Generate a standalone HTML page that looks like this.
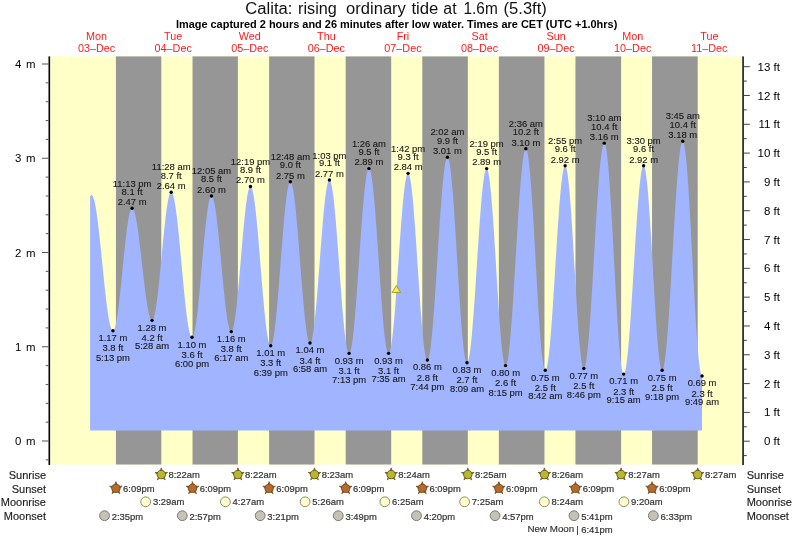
<!DOCTYPE html>
<html><head><meta charset="utf-8"><title>Calita tide</title><style>html,body{margin:0;padding:0;background:#fff}svg{display:block;will-change:transform}text{font-family:"Liberation Sans",sans-serif}</style></head><body>
<svg width="793" height="538" viewBox="0 0 793 538">
<rect width="793" height="538" fill="#fff"/>
<rect x="50" y="56.4" width="692.2" height="408.1" fill="#ffffc8"/>
<rect x="115.92" y="56.4" width="45.37" height="408.1" fill="#969696"/>
<rect x="192.51" y="56.4" width="45.37" height="408.1" fill="#969696"/>
<rect x="269.10" y="56.4" width="45.42" height="408.1" fill="#969696"/>
<rect x="345.70" y="56.4" width="45.48" height="408.1" fill="#969696"/>
<rect x="422.29" y="56.4" width="45.53" height="408.1" fill="#969696"/>
<rect x="498.88" y="56.4" width="45.58" height="408.1" fill="#969696"/>
<rect x="575.47" y="56.4" width="45.64" height="408.1" fill="#969696"/>
<rect x="652.06" y="56.4" width="45.64" height="408.1" fill="#969696"/>
<path d="M90.07 430.50L90.07 196.73L90.39 196.05L90.71 195.54L91.03 195.20L91.35 195.03L91.67 195.03L91.99 195.17L92.31 195.47L92.63 195.91L92.94 196.50L93.26 197.24L93.58 198.12L93.90 199.14L94.22 200.30L94.54 201.59L94.86 203.02L95.18 204.59L95.50 206.27L95.82 208.09L96.13 210.02L96.45 212.07L96.77 214.23L97.09 216.49L97.41 218.86L97.73 221.32L98.05 223.87L98.37 226.51L98.69 229.23L99.01 232.02L99.33 234.88L99.64 237.80L99.96 240.78L100.28 243.80L100.60 246.87L100.92 249.97L101.24 253.10L101.56 256.25L101.88 259.41L102.20 262.58L102.52 265.75L102.84 268.92L103.15 272.07L103.47 275.21L103.79 278.31L104.11 281.38L104.43 284.42L104.75 287.40L105.07 290.33L105.39 293.20L105.71 296.01L106.03 298.74L106.35 301.39L106.66 303.96L106.98 306.44L107.30 308.83L107.62 311.11L107.94 313.29L108.26 315.36L108.58 317.31L108.90 319.14L109.22 320.86L109.54 322.44L109.86 323.89L110.17 325.21L110.49 326.40L110.81 327.44L111.13 328.35L111.45 329.11L111.77 329.73L112.09 330.20L112.41 330.52L112.73 330.69L113.05 330.72L113.37 330.58L113.68 330.28L114.00 329.80L114.32 329.17L114.64 328.37L114.96 327.40L115.28 326.28L115.60 325.01L115.92 323.58L116.24 322.00L116.56 320.28L116.87 318.42L117.19 316.43L117.51 314.30L117.83 312.06L118.15 309.69L118.47 307.22L118.79 304.64L119.11 301.97L119.43 299.21L119.75 296.37L120.07 293.45L120.38 290.47L120.70 287.43L121.02 284.34L121.34 281.21L121.66 278.05L121.98 274.86L122.30 271.66L122.62 268.45L122.94 265.25L123.26 262.06L123.58 258.88L123.89 255.74L124.21 252.64L124.53 249.58L124.85 246.57L125.17 243.63L125.49 240.76L125.81 237.97L126.13 235.26L126.45 232.65L126.77 230.14L127.09 227.73L127.40 225.44L127.72 223.27L128.04 221.23L128.36 219.32L128.68 217.55L129.00 215.92L129.32 214.43L129.64 213.10L129.96 211.92L130.28 210.90L130.60 210.04L130.91 209.34L131.23 208.81L131.55 208.44L131.87 208.24L132.19 208.21L132.51 208.32L132.83 208.58L133.15 208.98L133.47 209.51L133.79 210.19L134.10 211.00L134.42 211.94L134.74 213.02L135.06 214.23L135.38 215.56L135.70 217.02L136.02 218.60L136.34 220.29L136.66 222.09L136.98 224.00L137.30 226.01L137.61 228.12L137.93 230.32L138.25 232.60L138.57 234.97L138.89 237.41L139.21 239.91L139.53 242.48L139.85 245.10L140.17 247.77L140.49 250.49L140.81 253.24L141.12 256.01L141.44 258.81L141.76 261.62L142.08 264.44L142.40 267.25L142.72 270.06L143.04 272.86L143.36 275.63L143.68 278.38L144.00 281.08L144.32 283.75L144.63 286.37L144.95 288.93L145.27 291.43L145.59 293.86L145.91 296.22L146.23 298.49L146.55 300.68L146.87 302.78L147.19 304.78L147.51 306.67L147.83 308.47L148.14 310.14L148.46 311.71L148.78 313.15L149.10 314.47L149.42 315.66L149.74 316.73L150.06 317.66L150.38 318.46L150.70 319.12L151.02 319.64L151.33 320.02L151.65 320.26L151.97 320.36L152.29 320.30L152.61 320.08L152.93 319.67L153.25 319.10L153.57 318.35L153.89 317.43L154.21 316.34L154.53 315.09L154.84 313.68L155.16 312.11L155.48 310.39L155.80 308.52L156.12 306.50L156.44 304.35L156.76 302.07L157.08 299.66L157.40 297.13L157.72 294.49L158.04 291.75L158.35 288.91L158.67 285.97L158.99 282.96L159.31 279.88L159.63 276.73L159.95 273.52L160.27 270.27L160.59 266.97L160.91 263.65L161.23 260.31L161.55 256.96L161.86 253.61L162.18 250.26L162.50 246.93L162.82 243.62L163.14 240.35L163.46 237.13L163.78 233.95L164.10 230.84L164.42 227.79L164.74 224.83L165.06 221.95L165.37 219.16L165.69 216.48L166.01 213.91L166.33 211.45L166.65 209.11L166.97 206.91L167.29 204.83L167.61 202.90L167.93 201.12L168.25 199.49L168.56 198.01L168.88 196.69L169.20 195.54L169.52 194.55L169.84 193.73L170.16 193.08L170.48 192.61L170.80 192.31L171.12 192.18L171.44 192.23L171.76 192.45L172.07 192.83L172.39 193.38L172.71 194.10L173.03 194.97L173.35 196.01L173.67 197.21L173.99 198.56L174.31 200.07L174.63 201.73L174.95 203.53L175.27 205.47L175.58 207.55L175.90 209.76L176.22 212.10L176.54 214.57L176.86 217.14L177.18 219.83L177.50 222.62L177.82 225.51L178.14 228.49L178.46 231.55L178.78 234.69L179.09 237.90L179.41 241.17L179.73 244.50L180.05 247.87L180.37 251.28L180.69 254.72L181.01 258.19L181.33 261.67L181.65 265.16L181.97 268.65L182.29 272.13L182.60 275.59L182.92 279.02L183.24 282.43L183.56 285.79L183.88 289.10L184.20 292.36L184.52 295.55L184.84 298.68L185.16 301.72L185.48 304.68L185.79 307.54L186.11 310.31L186.43 312.97L186.75 315.52L187.07 317.96L187.39 320.27L187.71 322.45L188.03 324.50L188.35 326.41L188.67 328.18L188.99 329.80L189.30 331.27L189.62 332.59L189.94 333.75L190.26 334.75L190.58 335.59L190.90 336.27L191.22 336.78L191.54 337.12L191.86 337.30L192.18 337.31L192.50 337.13L192.81 336.76L193.13 336.21L193.45 335.47L193.77 334.55L194.09 333.45L194.41 332.17L194.73 330.71L195.05 329.09L195.37 327.29L195.69 325.34L196.01 323.23L196.32 320.97L196.64 318.56L196.96 316.01L197.28 313.34L197.60 310.54L197.92 307.62L198.24 304.59L198.56 301.46L198.88 298.24L199.20 294.94L199.52 291.56L199.83 288.11L200.15 284.61L200.47 281.05L200.79 277.46L201.11 273.84L201.43 270.20L201.75 266.56L202.07 262.91L202.39 259.27L202.71 255.65L203.02 252.06L203.34 248.51L203.66 245.01L203.98 241.56L204.30 238.19L204.62 234.88L204.94 231.67L205.26 228.54L205.58 225.52L205.90 222.61L206.22 219.81L206.53 217.14L206.85 214.60L207.17 212.20L207.49 209.95L207.81 207.85L208.13 205.90L208.45 204.11L208.77 202.49L209.09 201.05L209.41 199.77L209.73 198.68L210.04 197.77L210.36 197.04L210.68 196.49L211.00 196.13L211.32 195.97L211.64 195.98L211.96 196.17L212.28 196.54L212.60 197.08L212.92 197.78L213.24 198.66L213.55 199.71L213.87 200.92L214.19 202.29L214.51 203.82L214.83 205.50L215.15 207.34L215.47 209.31L215.79 211.43L216.11 213.68L216.43 216.06L216.75 218.57L217.06 221.19L217.38 223.92L217.70 226.75L218.02 229.67L218.34 232.69L218.66 235.78L218.98 238.95L219.30 242.18L219.62 245.46L219.94 248.79L220.25 252.16L220.57 255.56L220.89 258.98L221.21 262.42L221.53 265.86L221.85 269.29L222.17 272.71L222.49 276.10L222.81 279.47L223.13 282.79L223.45 286.06L223.76 289.28L224.08 292.43L224.40 295.51L224.72 298.51L225.04 301.42L225.36 304.23L225.68 306.94L226.00 309.54L226.32 312.02L226.64 314.38L226.96 316.60L227.27 318.69L227.59 320.64L227.91 322.45L228.23 324.10L228.55 325.60L228.87 326.94L229.19 328.12L229.51 329.14L229.83 329.98L230.15 330.66L230.47 331.16L230.78 331.50L231.10 331.66L231.42 331.64L231.74 331.42L232.06 331.01L232.38 330.41L232.70 329.61L233.02 328.62L233.34 327.44L233.66 326.08L233.98 324.53L234.29 322.81L234.61 320.92L234.93 318.86L235.25 316.63L235.57 314.25L235.89 311.72L236.21 309.05L236.53 306.24L236.85 303.31L237.17 300.25L237.49 297.09L237.80 293.82L238.12 290.45L238.44 287.01L238.76 283.48L239.08 279.89L239.40 276.25L239.72 272.55L240.04 268.82L240.36 265.07L240.68 261.30L240.99 257.52L241.31 253.75L241.63 249.99L241.95 246.25L242.27 242.55L242.59 238.90L242.91 235.30L243.23 231.76L243.55 228.30L243.87 224.92L244.19 221.64L244.50 218.45L244.82 215.38L245.14 212.43L245.46 209.60L245.78 206.90L246.10 204.35L246.42 201.94L246.74 199.69L247.06 197.61L247.38 195.68L247.70 193.93L248.01 192.36L248.33 190.97L248.65 189.76L248.97 188.74L249.29 187.91L249.61 187.27L249.93 186.83L250.25 186.58L250.57 186.53L250.89 186.68L251.21 187.02L251.52 187.55L251.84 188.28L252.16 189.21L252.48 190.32L252.80 191.61L253.12 193.09L253.44 194.75L253.76 196.59L254.08 198.59L254.40 200.77L254.72 203.10L255.03 205.59L255.35 208.23L255.67 211.01L255.99 213.92L256.31 216.97L256.63 220.13L256.95 223.41L257.27 226.80L257.59 230.28L257.91 233.84L258.22 237.49L258.54 241.21L258.86 244.99L259.18 248.82L259.50 252.70L259.82 256.61L260.14 260.54L260.46 264.48L260.78 268.43L261.10 272.38L261.42 276.30L261.73 280.21L262.05 284.08L262.37 287.90L262.69 291.67L263.01 295.38L263.33 299.02L263.65 302.58L263.97 306.04L264.29 309.41L264.61 312.67L264.93 315.82L265.24 318.85L265.56 321.74L265.88 324.50L266.20 327.12L266.52 329.59L266.84 331.90L267.16 334.04L267.48 336.03L267.80 337.84L268.12 339.47L268.44 340.92L268.75 342.19L269.07 343.28L269.39 344.17L269.71 344.87L270.03 345.38L270.35 345.69L270.67 345.81L270.99 345.72L271.31 345.42L271.63 344.91L271.95 344.18L272.26 343.25L272.58 342.11L272.90 340.77L273.22 339.22L273.54 337.48L273.86 335.54L274.18 333.42L274.50 331.12L274.82 328.64L275.14 325.99L275.45 323.18L275.77 320.22L276.09 317.11L276.41 313.86L276.73 310.48L277.05 306.97L277.37 303.36L277.69 299.64L278.01 295.83L278.33 291.93L278.65 287.96L278.96 283.93L279.28 279.85L279.60 275.72L279.92 271.56L280.24 267.38L280.56 263.20L280.88 259.01L281.20 254.84L281.52 250.69L281.84 246.58L282.16 242.51L282.47 238.49L282.79 234.54L283.11 230.67L283.43 226.88L283.75 223.19L284.07 219.61L284.39 216.14L284.71 212.80L285.03 209.59L285.35 206.52L285.67 203.60L285.98 200.84L286.30 198.24L286.62 195.81L286.94 193.56L287.26 191.49L287.58 189.61L287.90 187.93L288.22 186.44L288.54 185.15L288.86 184.07L289.18 183.20L289.49 182.54L289.81 182.09L290.13 181.85L290.45 181.83L290.77 182.01L291.09 182.41L291.41 183.01L291.73 183.82L292.05 184.83L292.37 186.04L292.68 187.46L293.00 189.06L293.32 190.86L293.64 192.84L293.96 195.00L294.28 197.34L294.60 199.84L294.92 202.51L295.24 205.33L295.56 208.30L295.88 211.41L296.19 214.66L296.51 218.03L296.83 221.51L297.15 225.10L297.47 228.78L297.79 232.55L298.11 236.40L298.43 240.32L298.75 244.30L299.07 248.32L299.39 252.38L299.70 256.46L300.02 260.56L300.34 264.66L300.66 268.76L300.98 272.84L301.30 276.90L301.62 280.91L301.94 284.88L302.26 288.79L302.58 292.64L302.90 296.40L303.21 300.08L303.53 303.65L303.85 307.12L304.17 310.48L304.49 313.71L304.81 316.81L305.13 319.76L305.45 322.57L305.77 325.22L306.09 327.71L306.41 330.03L306.72 332.17L307.04 334.13L307.36 335.91L307.68 337.49L308.00 338.88L308.32 340.08L308.64 341.07L308.96 341.85L309.28 342.43L309.60 342.81L309.91 342.97L310.23 342.92L310.55 342.66L310.87 342.18L311.19 341.49L311.51 340.58L311.83 339.46L312.15 338.13L312.47 336.60L312.79 334.87L313.11 332.94L313.42 330.82L313.74 328.52L314.06 326.04L314.38 323.38L314.70 320.56L315.02 317.59L315.34 314.46L315.66 311.19L315.98 307.79L316.30 304.27L316.62 300.63L316.93 296.89L317.25 293.05L317.57 289.13L317.89 285.14L318.21 281.08L318.53 276.97L318.85 272.82L319.17 268.64L319.49 264.44L319.81 260.23L320.13 256.02L320.44 251.83L320.76 247.66L321.08 243.54L321.40 239.45L321.72 235.43L322.04 231.48L322.36 227.61L322.68 223.82L323.00 220.14L323.32 216.57L323.64 213.12L323.95 209.79L324.27 206.61L324.59 203.57L324.91 200.68L325.23 197.96L325.55 195.40L325.87 193.02L326.19 190.83L326.51 188.82L326.83 187.01L327.14 185.39L327.46 183.98L327.78 182.77L328.10 181.77L328.42 180.99L328.74 180.42L329.06 180.07L329.38 179.93L329.70 180.01L330.02 180.32L330.34 180.85L330.65 181.61L330.97 182.58L331.29 183.77L331.61 185.18L331.93 186.80L332.25 188.63L332.57 190.66L332.89 192.88L333.21 195.30L333.53 197.90L333.85 200.68L334.16 203.63L334.48 206.75L334.80 210.02L335.12 213.43L335.44 216.99L335.76 220.67L336.08 224.48L336.40 228.39L336.72 232.40L337.04 236.50L337.36 240.68L337.67 244.92L337.99 249.23L338.31 253.57L338.63 257.96L338.95 262.36L339.27 266.77L339.59 271.19L339.91 275.59L340.23 279.97L340.55 284.32L340.87 288.62L341.18 292.86L341.50 297.03L341.82 301.13L342.14 305.13L342.46 309.04L342.78 312.83L343.10 316.51L343.42 320.06L343.74 323.47L344.06 326.73L344.37 329.83L344.69 332.77L345.01 335.54L345.33 338.13L345.65 340.54L345.97 342.75L346.29 344.77L346.61 346.58L346.93 348.19L347.25 349.58L347.57 350.76L347.88 351.72L348.20 352.46L348.52 352.98L348.84 353.27L349.16 353.34L349.48 353.18L349.80 352.78L350.12 352.15L350.44 351.28L350.76 350.19L351.08 348.86L351.39 347.32L351.71 345.55L352.03 343.56L352.35 341.37L352.67 338.97L352.99 336.37L353.31 333.58L353.63 330.60L353.95 327.45L354.27 324.12L354.59 320.64L354.90 317.00L355.22 313.22L355.54 309.30L355.86 305.27L356.18 301.12L356.50 296.86L356.82 292.52L357.14 288.10L357.46 283.60L357.78 279.05L358.10 274.45L358.41 269.82L358.73 265.16L359.05 260.50L359.37 255.84L359.69 251.18L360.01 246.56L360.33 241.97L360.65 237.43L360.97 232.95L361.29 228.54L361.60 224.21L361.92 219.98L362.24 215.85L362.56 211.84L362.88 207.95L363.20 204.20L363.52 200.59L363.84 197.14L364.16 193.85L364.48 190.73L364.80 187.79L365.11 185.04L365.43 182.48L365.75 180.13L366.07 177.97L366.39 176.03L366.71 174.31L367.03 172.81L367.35 171.53L367.67 170.48L367.99 169.67L368.31 169.08L368.62 168.73L368.94 168.62L369.26 168.74L369.58 169.11L369.90 169.71L370.22 170.55L370.54 171.63L370.86 172.94L371.18 174.48L371.50 176.25L371.82 178.24L372.13 180.44L372.45 182.85L372.77 185.47L373.09 188.28L373.41 191.29L373.73 194.47L374.05 197.83L374.37 201.35L374.69 205.03L375.01 208.86L375.33 212.82L375.64 216.90L375.96 221.11L376.28 225.41L376.60 229.81L376.92 234.29L377.24 238.84L377.56 243.44L377.88 248.10L378.20 252.78L378.52 257.49L378.84 262.21L379.15 266.92L379.47 271.62L379.79 276.29L380.11 280.92L380.43 285.50L380.75 290.01L381.07 294.45L381.39 298.80L381.71 303.05L382.03 307.20L382.34 311.22L382.66 315.11L382.98 318.86L383.30 322.46L383.62 325.90L383.94 329.17L384.26 332.26L384.58 335.17L384.90 337.88L385.22 340.39L385.54 342.70L385.85 344.79L386.17 346.66L386.49 348.31L386.81 349.73L387.13 350.92L387.45 351.88L387.77 352.60L388.09 353.08L388.41 353.32L388.73 353.32L389.05 353.08L389.36 352.60L389.68 351.89L390.00 350.95L390.32 349.78L390.64 348.37L390.96 346.75L391.28 344.90L391.60 342.84L391.92 340.57L392.24 338.09L392.56 335.42L392.87 332.56L393.19 329.51L393.51 326.30L393.83 322.91L394.15 319.37L394.47 315.68L394.79 311.85L395.11 307.90L395.43 303.82L395.75 299.64L396.07 295.37L396.38 291.01L396.70 286.57L397.02 282.08L397.34 277.54L397.66 272.96L397.98 268.35L398.30 263.73L398.62 259.11L398.94 254.50L399.26 249.91L399.57 245.36L399.89 240.86L400.21 236.42L400.53 232.04L400.85 227.75L401.17 223.55L401.49 219.46L401.81 215.49L402.13 211.64L402.45 207.92L402.77 204.36L403.08 200.94L403.40 197.70L403.72 194.62L404.04 191.73L404.36 189.02L404.68 186.51L405.00 184.21L405.32 182.11L405.64 180.23L405.96 178.56L406.28 177.12L406.59 175.91L406.91 174.93L407.23 174.18L407.55 173.66L407.87 173.38L408.19 173.34L408.51 173.55L408.83 174.01L409.15 174.73L409.47 175.69L409.79 176.90L410.10 178.35L410.42 180.04L410.74 181.96L411.06 184.12L411.38 186.49L411.70 189.09L412.02 191.89L412.34 194.90L412.66 198.10L412.98 201.49L413.30 205.06L413.61 208.79L413.93 212.68L414.25 216.71L414.57 220.88L414.89 225.17L415.21 229.58L415.53 234.09L415.85 238.68L416.17 243.35L416.49 248.08L416.80 252.87L417.12 257.69L417.44 262.53L417.76 267.39L418.08 272.24L418.40 277.08L418.72 281.89L419.04 286.66L419.36 291.38L419.68 296.03L420.00 300.60L420.31 305.07L420.63 309.44L420.95 313.70L421.27 317.83L421.59 321.82L421.91 325.66L422.23 329.34L422.55 332.85L422.87 336.18L423.19 339.33L423.51 342.27L423.82 345.01L424.14 347.54L424.46 349.85L424.78 351.93L425.10 353.79L425.42 355.40L425.74 356.78L426.06 357.91L426.38 358.80L426.70 359.43L427.02 359.81L427.33 359.94L427.65 359.82L427.97 359.45L428.29 358.83L428.61 357.95L428.93 356.83L429.25 355.47L429.57 353.87L429.89 352.03L430.21 349.95L430.53 347.65L430.84 345.13L431.16 342.39L431.48 339.45L431.80 336.30L432.12 332.97L432.44 329.44L432.76 325.74L433.08 321.88L433.40 317.85L433.72 313.68L434.03 309.38L434.35 304.94L434.67 300.39L434.99 295.74L435.31 291.00L435.63 286.17L435.95 281.28L436.27 276.33L436.59 271.34L436.91 266.31L437.23 261.27L437.54 256.21L437.86 251.17L438.18 246.14L438.50 241.15L438.82 236.20L439.14 231.30L439.46 226.47L439.78 221.72L440.10 217.07L440.42 212.51L440.74 208.07L441.05 203.76L441.37 199.58L441.69 195.55L442.01 191.68L442.33 187.97L442.65 184.44L442.97 181.09L443.29 177.94L443.61 174.99L443.93 172.24L444.25 169.71L444.56 167.40L444.88 165.32L445.20 163.46L445.52 161.85L445.84 160.47L446.16 159.34L446.48 158.46L446.80 157.82L447.12 157.44L447.44 157.31L447.76 157.44L448.07 157.83L448.39 158.50L448.71 159.44L449.03 160.64L449.35 162.10L449.67 163.82L449.99 165.80L450.31 168.02L450.63 170.49L450.95 173.19L451.26 176.12L451.58 179.27L451.90 182.64L452.22 186.20L452.54 189.97L452.86 193.92L453.18 198.04L453.50 202.33L453.82 206.77L454.14 211.34L454.46 216.05L454.77 220.87L455.09 225.80L455.41 230.82L455.73 235.91L456.05 241.07L456.37 246.28L456.69 251.52L457.01 256.79L457.33 262.06L457.65 267.33L457.97 272.58L458.28 277.80L458.60 282.97L458.92 288.08L459.24 293.12L459.56 298.06L459.88 302.91L460.20 307.65L460.52 312.26L460.84 316.73L461.16 321.05L461.48 325.22L461.79 329.21L462.11 333.01L462.43 336.63L462.75 340.04L463.07 343.25L463.39 346.23L463.71 348.99L464.03 351.51L464.35 353.79L464.67 355.82L464.99 357.60L465.30 359.12L465.62 360.39L465.94 361.38L466.26 362.11L466.58 362.58L466.90 362.77L467.22 362.69L467.54 362.37L467.86 361.79L468.18 360.96L468.49 359.89L468.81 358.57L469.13 357.02L469.45 355.22L469.77 353.19L470.09 350.94L470.41 348.46L470.73 345.77L471.05 342.88L471.37 339.78L471.69 336.49L472.00 333.01L472.32 329.37L472.64 325.55L472.96 321.58L473.28 317.47L473.60 313.22L473.92 308.85L474.24 304.37L474.56 299.78L474.88 295.11L475.20 290.36L475.51 285.55L475.83 280.69L476.15 275.78L476.47 270.85L476.79 265.91L477.11 260.97L477.43 256.04L477.75 251.13L478.07 246.27L478.39 241.45L478.71 236.69L479.02 232.01L479.34 227.42L479.66 222.93L479.98 218.55L480.30 214.29L480.62 210.16L480.94 206.18L481.26 202.35L481.58 198.69L481.90 195.20L482.22 191.89L482.53 188.78L482.85 185.86L483.17 183.15L483.49 180.66L483.81 178.39L484.13 176.34L484.45 174.52L484.77 172.94L485.09 171.60L485.41 170.51L485.72 169.66L486.04 169.06L486.36 168.72L486.68 168.62L487.00 168.79L487.32 169.24L487.64 169.96L487.96 170.95L488.28 172.21L488.60 173.74L488.92 175.53L489.23 177.57L489.55 179.87L489.87 182.41L490.19 185.19L490.51 188.20L490.83 191.43L491.15 194.87L491.47 198.51L491.79 202.35L492.11 206.36L492.43 210.55L492.74 214.90L493.06 219.39L493.38 224.01L493.70 228.76L494.02 233.62L494.34 238.56L494.66 243.59L494.98 248.68L495.30 253.83L495.62 259.01L495.94 264.22L496.25 269.43L496.57 274.64L496.89 279.82L497.21 284.97L497.53 290.07L497.85 295.11L498.17 300.07L498.49 304.93L498.81 309.69L499.13 314.33L499.45 318.84L499.76 323.20L500.08 327.41L500.40 331.44L500.72 335.30L501.04 338.96L501.36 342.43L501.68 345.68L502.00 348.71L502.32 351.52L502.64 354.08L502.96 356.41L503.27 358.48L503.59 360.30L503.91 361.85L504.23 363.15L504.55 364.17L504.87 364.92L505.19 365.39L505.51 365.59L505.83 365.52L506.15 365.18L506.46 364.58L506.78 363.72L507.10 362.59L507.42 361.21L507.74 359.57L508.06 357.69L508.38 355.55L508.70 353.18L509.02 350.57L509.34 347.73L509.66 344.67L509.97 341.40L510.29 337.92L510.61 334.25L510.93 330.38L511.25 326.34L511.57 322.13L511.89 317.76L512.21 313.24L512.53 308.58L512.85 303.80L513.17 298.90L513.48 293.91L513.80 288.82L514.12 283.65L514.44 278.42L514.76 273.14L515.08 267.82L515.40 262.47L515.72 257.12L516.04 251.76L516.36 246.41L516.68 241.09L516.99 235.81L517.31 230.58L517.63 225.42L517.95 220.34L518.27 215.34L518.59 210.45L518.91 205.67L519.23 201.02L519.55 196.51L519.87 192.14L520.19 187.93L520.50 183.90L520.82 180.04L521.14 176.37L521.46 172.90L521.78 169.64L522.10 166.59L522.42 163.76L522.74 161.16L523.06 158.79L523.38 156.67L523.69 154.79L524.01 153.16L524.33 151.79L524.65 150.67L524.97 149.82L525.29 149.23L525.61 148.90L525.93 148.84L526.25 149.06L526.57 149.58L526.89 150.38L527.20 151.48L527.52 152.87L527.84 154.53L528.16 156.48L528.48 158.70L528.80 161.18L529.12 163.93L529.44 166.93L529.76 170.18L530.08 173.66L530.40 177.37L530.71 181.30L531.03 185.44L531.35 189.77L531.67 194.29L531.99 198.98L532.31 203.83L532.63 208.83L532.95 213.96L533.27 219.22L533.59 224.58L533.91 230.03L534.22 235.57L534.54 241.16L534.86 246.81L535.18 252.49L535.50 258.19L535.82 263.89L536.14 269.58L536.46 275.24L536.78 280.86L537.10 286.43L537.42 291.92L537.73 297.33L538.05 302.64L538.37 307.83L538.69 312.90L539.01 317.82L539.33 322.59L539.65 327.20L539.97 331.62L540.29 335.85L540.61 339.88L540.92 343.70L541.24 347.30L541.56 350.66L541.88 353.78L542.20 356.65L542.52 359.27L542.84 361.62L543.16 363.69L543.48 365.50L543.80 367.02L544.12 368.26L544.43 369.21L544.75 369.86L545.07 370.23L545.39 370.30L545.71 370.11L546.03 369.65L546.35 368.94L546.67 367.96L546.99 366.73L547.31 365.25L547.63 363.52L547.94 361.55L548.26 359.34L548.58 356.90L548.90 354.23L549.22 351.34L549.54 348.23L549.86 344.92L550.18 341.42L550.50 337.73L550.82 333.86L551.14 329.82L551.45 325.63L551.77 321.29L552.09 316.81L552.41 312.21L552.73 307.49L553.05 302.68L553.37 297.77L553.69 292.79L554.01 287.75L554.33 282.66L554.65 277.53L554.96 272.37L555.28 267.21L555.60 262.04L555.92 256.90L556.24 251.78L556.56 246.70L556.88 241.67L557.20 236.72L557.52 231.84L557.84 227.06L558.15 222.38L558.47 217.82L558.79 213.38L559.11 209.09L559.43 204.94L559.75 200.96L560.07 197.15L560.39 193.52L560.71 190.08L561.03 186.83L561.35 183.80L561.66 180.98L561.98 178.38L562.30 176.01L562.62 173.88L562.94 171.99L563.26 170.34L563.58 168.94L563.90 167.79L564.22 166.91L564.54 166.27L564.86 165.90L565.17 165.79L565.49 165.96L565.81 166.42L566.13 167.17L566.45 168.21L566.77 169.53L567.09 171.13L567.41 173.01L567.73 175.16L568.05 177.58L568.37 180.26L568.68 183.18L569.00 186.35L569.32 189.75L569.64 193.37L569.96 197.21L570.28 201.24L570.60 205.47L570.92 209.87L571.24 214.44L571.56 219.16L571.88 224.02L572.19 229.01L572.51 234.10L572.83 239.29L573.15 244.56L573.47 249.89L573.79 255.27L574.11 260.69L574.43 266.13L574.75 271.57L575.07 276.99L575.38 282.39L575.70 287.74L576.02 293.04L576.34 298.25L576.66 303.38L576.98 308.41L577.30 313.31L577.62 318.09L577.94 322.71L578.26 327.18L578.58 331.47L578.89 335.58L579.21 339.49L579.53 343.19L579.85 346.67L580.17 349.92L580.49 352.93L580.81 355.70L581.13 358.21L581.45 360.46L581.77 362.44L582.09 364.14L582.40 365.57L582.72 366.71L583.04 367.56L583.36 368.13L583.68 368.40L584.00 368.38L584.32 368.10L584.64 367.54L584.96 366.71L585.28 365.61L585.60 364.25L585.91 362.63L586.23 360.75L586.55 358.62L586.87 356.25L587.19 353.62L587.51 350.77L587.83 347.68L588.15 344.38L588.47 340.86L588.79 337.13L589.11 333.21L589.42 329.11L589.74 324.82L590.06 320.38L590.38 315.77L590.70 311.02L591.02 306.14L591.34 301.14L591.66 296.02L591.98 290.81L592.30 285.52L592.61 280.15L592.93 274.73L593.25 269.26L593.57 263.76L593.89 258.24L594.21 252.71L594.53 247.19L594.85 241.69L595.17 236.23L595.49 230.81L595.81 225.45L596.12 220.17L596.44 214.97L596.76 209.87L597.08 204.88L597.40 200.01L597.72 195.28L598.04 190.69L598.36 186.26L598.68 182.00L599.00 177.91L599.32 174.01L599.63 170.31L599.95 166.82L600.27 163.54L600.59 160.48L600.91 157.65L601.23 155.06L601.55 152.71L601.87 150.61L602.19 148.76L602.51 147.17L602.83 145.84L603.14 144.78L603.46 143.98L603.78 143.45L604.10 143.20L604.42 143.22L604.74 143.54L605.06 144.17L605.38 145.11L605.70 146.35L606.02 147.88L606.34 149.72L606.65 151.84L606.97 154.25L607.29 156.93L607.61 159.89L607.93 163.11L608.25 166.59L608.57 170.31L608.89 174.26L609.21 178.44L609.53 182.84L609.84 187.43L610.16 192.22L610.48 197.18L610.80 202.31L611.12 207.58L611.44 213.00L611.76 218.53L612.08 224.17L612.40 229.91L612.72 235.72L613.04 241.59L613.35 247.50L613.67 253.45L613.99 259.41L614.31 265.37L614.63 271.31L614.95 277.21L615.27 283.07L615.59 288.86L615.91 294.57L616.23 300.18L616.55 305.69L616.86 311.07L617.18 316.31L617.50 321.39L617.82 326.31L618.14 331.05L618.46 335.59L618.78 339.93L619.10 344.05L619.42 347.95L619.74 351.60L620.06 355.01L620.37 358.16L620.69 361.05L621.01 363.66L621.33 366.00L621.65 368.05L621.97 369.80L622.29 371.26L622.61 372.42L622.93 373.28L623.25 373.83L623.57 374.07L623.88 374.02L624.20 373.70L624.52 373.12L624.84 372.28L625.16 371.18L625.48 369.82L625.80 368.22L626.12 366.36L626.44 364.26L626.76 361.93L627.08 359.36L627.39 356.56L627.71 353.55L628.03 350.33L628.35 346.90L628.67 343.28L628.99 339.47L629.31 335.49L629.63 331.34L629.95 327.03L630.27 322.59L630.58 318.01L630.90 313.30L631.22 308.49L631.54 303.58L631.86 298.59L632.18 293.52L632.50 288.40L632.82 283.23L633.14 278.02L633.46 272.79L633.78 267.56L634.09 262.33L634.41 257.12L634.73 251.95L635.05 246.82L635.37 241.75L635.69 236.75L636.01 231.83L636.33 227.01L636.65 222.29L636.97 217.70L637.29 213.24L637.60 208.93L637.92 204.76L638.24 200.76L638.56 196.94L638.88 193.30L639.20 189.85L639.52 186.61L639.84 183.58L640.16 180.76L640.48 178.17L640.80 175.81L641.11 173.69L641.43 171.82L641.75 170.19L642.07 168.81L642.39 167.68L642.71 166.82L643.03 166.22L643.35 165.87L643.67 165.80L643.99 166.01L644.31 166.51L644.62 167.32L644.94 168.42L645.26 169.82L645.58 171.50L645.90 173.46L646.22 175.71L646.54 178.22L646.86 180.99L647.18 184.03L647.50 187.30L647.81 190.82L648.13 194.56L648.45 198.52L648.77 202.68L649.09 207.03L649.41 211.56L649.73 216.26L650.05 221.11L650.37 226.09L650.69 231.20L651.01 236.42L651.32 241.73L651.64 247.12L651.96 252.57L652.28 258.06L652.60 263.59L652.92 269.12L653.24 274.66L653.56 280.17L653.88 285.65L654.20 291.08L654.52 296.44L654.83 301.71L655.15 306.89L655.47 311.95L655.79 316.89L656.11 321.68L656.43 326.31L656.75 330.78L657.07 335.06L657.39 339.14L657.71 343.02L658.03 346.67L658.34 350.09L658.66 353.28L658.98 356.21L659.30 358.89L659.62 361.30L659.94 363.43L660.26 365.29L660.58 366.86L660.90 368.14L661.22 369.13L661.54 369.82L661.85 370.21L662.17 370.31L662.49 370.12L662.81 369.66L663.13 368.93L663.45 367.94L663.77 366.68L664.09 365.15L664.41 363.37L664.73 361.33L665.04 359.04L665.36 356.50L665.68 353.73L666.00 350.73L666.32 347.50L666.64 344.05L666.96 340.39L667.28 336.53L667.60 332.48L667.92 328.25L668.24 323.85L668.55 319.29L668.87 314.57L669.19 309.72L669.51 304.74L669.83 299.64L670.15 294.44L670.47 289.14L670.79 283.77L671.11 278.33L671.43 272.84L671.75 267.31L672.06 261.75L672.38 256.17L672.70 250.60L673.02 245.04L673.34 239.50L673.66 234.00L673.98 228.55L674.30 223.17L674.62 217.87L674.94 212.65L675.26 207.54L675.57 202.54L675.89 197.67L676.21 192.94L676.53 188.35L676.85 183.93L677.17 179.67L677.49 175.60L677.81 171.71L678.13 168.03L678.45 164.55L678.77 161.29L679.08 158.26L679.40 155.45L679.72 152.89L680.04 150.56L680.36 148.49L680.68 146.67L681.00 145.11L681.32 143.81L681.64 142.78L681.96 142.02L682.27 141.52L682.59 141.30L682.91 141.36L683.23 141.73L683.55 142.41L683.87 143.41L684.19 144.71L684.51 146.32L684.83 148.23L685.15 150.43L685.47 152.93L685.78 155.71L686.10 158.76L686.42 162.09L686.74 165.67L687.06 169.50L687.38 173.57L687.70 177.86L688.02 182.38L688.34 187.10L688.66 192.01L688.98 197.09L689.29 202.35L689.61 207.75L689.93 213.29L690.25 218.95L690.57 224.72L690.89 230.58L691.21 236.51L691.53 242.51L691.85 248.55L692.17 254.61L692.49 260.68L692.80 266.75L693.12 272.80L693.44 278.81L693.76 284.76L694.08 290.65L694.40 296.45L694.72 302.15L695.04 307.73L695.36 313.18L695.68 318.48L696.00 323.62L696.31 328.59L696.63 333.37L696.95 337.95L697.27 342.32L697.59 346.47L697.91 350.38L698.23 354.04L698.55 357.45L698.87 360.59L699.19 363.46L699.50 366.04L699.82 368.34L700.14 370.35L700.46 372.06L700.78 373.46L701.10 374.55L701.42 375.34L701.74 375.81L702.06 375.97L702.06 430.50 Z" fill="#a0b4ff"/>
<rect x="48.5" y="56.4" width="1.6" height="408.6" fill="#000"/>
<rect x="742.2" y="56.4" width="1.75" height="408.6" fill="#2a2a30"/>
<rect x="45.70" y="459.35" width="2.80" height="1" fill="#555"/>
<rect x="42.00" y="440.50" width="6.50" height="1" fill="#555"/>
<rect x="45.70" y="421.65" width="2.80" height="1" fill="#555"/>
<rect x="45.70" y="402.80" width="2.80" height="1" fill="#555"/>
<rect x="45.70" y="383.95" width="2.80" height="1" fill="#555"/>
<rect x="45.70" y="365.10" width="2.80" height="1" fill="#555"/>
<rect x="42.00" y="346.25" width="6.50" height="1" fill="#555"/>
<rect x="45.70" y="327.40" width="2.80" height="1" fill="#555"/>
<rect x="45.70" y="308.55" width="2.80" height="1" fill="#555"/>
<rect x="45.70" y="289.70" width="2.80" height="1" fill="#555"/>
<rect x="45.70" y="270.85" width="2.80" height="1" fill="#555"/>
<rect x="42.00" y="252.00" width="6.50" height="1" fill="#555"/>
<rect x="45.70" y="233.15" width="2.80" height="1" fill="#555"/>
<rect x="45.70" y="214.30" width="2.80" height="1" fill="#555"/>
<rect x="45.70" y="195.45" width="2.80" height="1" fill="#555"/>
<rect x="45.70" y="176.60" width="2.80" height="1" fill="#555"/>
<rect x="42.00" y="157.75" width="6.50" height="1" fill="#555"/>
<rect x="45.70" y="138.90" width="2.80" height="1" fill="#555"/>
<rect x="45.70" y="120.05" width="2.80" height="1" fill="#555"/>
<rect x="45.70" y="101.20" width="2.80" height="1" fill="#555"/>
<rect x="45.70" y="82.35" width="2.80" height="1" fill="#555"/>
<rect x="42.00" y="63.50" width="6.50" height="1" fill="#555"/>
<text x="35.5" y="445.00" font-size="11.4" word-spacing="1.6" text-anchor="end" fill="#000">0 m</text>
<text x="35.5" y="350.75" font-size="11.4" word-spacing="1.6" text-anchor="end" fill="#000">1 m</text>
<text x="35.5" y="256.50" font-size="11.4" word-spacing="1.6" text-anchor="end" fill="#000">2 m</text>
<text x="35.5" y="162.25" font-size="11.4" word-spacing="1.6" text-anchor="end" fill="#000">3 m</text>
<text x="35.5" y="68.00" font-size="11.4" word-spacing="1.6" text-anchor="end" fill="#000">4 m</text>
<rect x="743.8" y="455.10" width="3.00" height="1" fill="#444"/>
<rect x="743.8" y="440.70" width="6.00" height="1" fill="#444"/>
<rect x="743.8" y="426.30" width="3.00" height="1" fill="#444"/>
<rect x="743.8" y="411.89" width="6.00" height="1" fill="#444"/>
<rect x="743.8" y="397.49" width="3.00" height="1" fill="#444"/>
<rect x="743.8" y="383.08" width="6.00" height="1" fill="#444"/>
<rect x="743.8" y="368.68" width="3.00" height="1" fill="#444"/>
<rect x="743.8" y="354.27" width="6.00" height="1" fill="#444"/>
<rect x="743.8" y="339.87" width="3.00" height="1" fill="#444"/>
<rect x="743.8" y="325.46" width="6.00" height="1" fill="#444"/>
<rect x="743.8" y="311.06" width="3.00" height="1" fill="#444"/>
<rect x="743.8" y="296.65" width="6.00" height="1" fill="#444"/>
<rect x="743.8" y="282.25" width="3.00" height="1" fill="#444"/>
<rect x="743.8" y="267.84" width="6.00" height="1" fill="#444"/>
<rect x="743.8" y="253.44" width="3.00" height="1" fill="#444"/>
<rect x="743.8" y="239.03" width="6.00" height="1" fill="#444"/>
<rect x="743.8" y="224.62" width="3.00" height="1" fill="#444"/>
<rect x="743.8" y="210.22" width="6.00" height="1" fill="#444"/>
<rect x="743.8" y="195.81" width="3.00" height="1" fill="#444"/>
<rect x="743.8" y="181.41" width="6.00" height="1" fill="#444"/>
<rect x="743.8" y="167.00" width="3.00" height="1" fill="#444"/>
<rect x="743.8" y="152.60" width="6.00" height="1" fill="#444"/>
<rect x="743.8" y="138.19" width="3.00" height="1" fill="#444"/>
<rect x="743.8" y="123.79" width="6.00" height="1" fill="#444"/>
<rect x="743.8" y="109.38" width="3.00" height="1" fill="#444"/>
<rect x="743.8" y="94.98" width="6.00" height="1" fill="#444"/>
<rect x="743.8" y="80.57" width="3.00" height="1" fill="#444"/>
<rect x="743.8" y="66.17" width="6.00" height="1" fill="#444"/>
<text x="780" y="445.30" font-size="11.5" text-anchor="end" fill="#000">0 ft</text>
<text x="780" y="416.49" font-size="11.5" text-anchor="end" fill="#000">1 ft</text>
<text x="780" y="387.68" font-size="11.5" text-anchor="end" fill="#000">2 ft</text>
<text x="780" y="358.87" font-size="11.5" text-anchor="end" fill="#000">3 ft</text>
<text x="780" y="330.06" font-size="11.5" text-anchor="end" fill="#000">4 ft</text>
<text x="780" y="301.25" font-size="11.5" text-anchor="end" fill="#000">5 ft</text>
<text x="780" y="272.44" font-size="11.5" text-anchor="end" fill="#000">6 ft</text>
<text x="780" y="243.63" font-size="11.5" text-anchor="end" fill="#000">7 ft</text>
<text x="780" y="214.82" font-size="11.5" text-anchor="end" fill="#000">8 ft</text>
<text x="780" y="186.01" font-size="11.5" text-anchor="end" fill="#000">9 ft</text>
<text x="780" y="157.20" font-size="11.5" text-anchor="end" fill="#000">10 ft</text>
<text x="780" y="128.39" font-size="11.5" text-anchor="end" fill="#000">11 ft</text>
<text x="780" y="99.58" font-size="11.5" text-anchor="end" fill="#000">12 ft</text>
<text x="780" y="70.77" font-size="11.5" text-anchor="end" fill="#000">13 ft</text>
<text x="245.25" y="13.5" font-size="15.8" fill="#111" textLength="47.20" lengthAdjust="spacingAndGlyphs">Calita:</text>
<text x="298.10" y="13.5" font-size="15.8" fill="#111" textLength="38.70" lengthAdjust="spacingAndGlyphs">rising</text>
<text x="346.10" y="13.5" font-size="15.8" fill="#111" textLength="59.80" lengthAdjust="spacingAndGlyphs">ordinary</text>
<text x="411.40" y="13.5" font-size="15.8" fill="#111" textLength="27.00" lengthAdjust="spacingAndGlyphs">tide</text>
<text x="443.30" y="13.5" font-size="15.8" fill="#111" textLength="13.30" lengthAdjust="spacingAndGlyphs">at</text>
<text x="463.50" y="13.5" font-size="15.8" fill="#111" textLength="34.20" lengthAdjust="spacingAndGlyphs">1.6m</text>
<text x="503.60" y="13.5" font-size="15.8" fill="#111" textLength="43.20" lengthAdjust="spacingAndGlyphs">(5.3ft)</text>
<text x="396.6" y="27.6" font-size="10.95" font-weight="bold" text-anchor="middle" fill="#000">Image captured 2 hours and 26 minutes after low water. Times are CET (UTC +1.0hrs)</text>
<text x="96.60" y="39.6" font-size="10.8" text-anchor="middle" fill="#ff1a1a">Mon</text>
<text x="96.60" y="51.5" font-size="10.8" text-anchor="middle" fill="#ff1a1a">03–Dec</text>
<text x="173.19" y="39.6" font-size="10.8" text-anchor="middle" fill="#ff1a1a">Tue</text>
<text x="173.19" y="51.5" font-size="10.8" text-anchor="middle" fill="#ff1a1a">04–Dec</text>
<text x="249.78" y="39.6" font-size="10.8" text-anchor="middle" fill="#ff1a1a">Wed</text>
<text x="249.78" y="51.5" font-size="10.8" text-anchor="middle" fill="#ff1a1a">05–Dec</text>
<text x="326.37" y="39.6" font-size="10.8" text-anchor="middle" fill="#ff1a1a">Thu</text>
<text x="326.37" y="51.5" font-size="10.8" text-anchor="middle" fill="#ff1a1a">06–Dec</text>
<text x="402.96" y="39.6" font-size="10.8" text-anchor="middle" fill="#ff1a1a">Fri</text>
<text x="402.96" y="51.5" font-size="10.8" text-anchor="middle" fill="#ff1a1a">07–Dec</text>
<text x="479.55" y="39.6" font-size="10.8" text-anchor="middle" fill="#ff1a1a">Sat</text>
<text x="479.55" y="51.5" font-size="10.8" text-anchor="middle" fill="#ff1a1a">08–Dec</text>
<text x="556.14" y="39.6" font-size="10.8" text-anchor="middle" fill="#ff1a1a">Sun</text>
<text x="556.14" y="51.5" font-size="10.8" text-anchor="middle" fill="#ff1a1a">09–Dec</text>
<text x="632.73" y="39.6" font-size="10.8" text-anchor="middle" fill="#ff1a1a">Mon</text>
<text x="632.73" y="51.5" font-size="10.8" text-anchor="middle" fill="#ff1a1a">10–Dec</text>
<text x="709.33" y="39.6" font-size="10.8" text-anchor="middle" fill="#ff1a1a">Tue</text>
<text x="709.33" y="51.5" font-size="10.8" text-anchor="middle" fill="#ff1a1a">11–Dec</text>
<circle cx="112.94" cy="330.73" r="1.7" fill="#000"/>
<text x="112.94" y="340.93" font-size="9.45" text-anchor="middle" fill="#151515" stroke="#151515" stroke-width="0.1">1.17 m</text>
<text x="112.94" y="351.33" font-size="9.45" text-anchor="middle" fill="#151515" stroke="#151515" stroke-width="0.1">3.8 ft</text>
<text x="112.94" y="360.73" font-size="9.45" text-anchor="middle" fill="#151515" stroke="#151515" stroke-width="0.1">5:13 pm</text>
<circle cx="132.09" cy="208.20" r="1.7" fill="#000"/>
<text x="132.09" y="186.80" font-size="9.45" text-anchor="middle" fill="#151515" stroke="#151515" stroke-width="0.1">11:13 pm</text>
<text x="132.09" y="194.60" font-size="9.45" text-anchor="middle" fill="#151515" stroke="#151515" stroke-width="0.1">8.1 ft</text>
<text x="132.09" y="205.00" font-size="9.45" text-anchor="middle" fill="#151515" stroke="#151515" stroke-width="0.1">2.47 m</text>
<circle cx="152.04" cy="320.36" r="1.7" fill="#000"/>
<text x="152.04" y="330.56" font-size="9.45" text-anchor="middle" fill="#151515" stroke="#151515" stroke-width="0.1">1.28 m</text>
<text x="152.04" y="340.96" font-size="9.45" text-anchor="middle" fill="#151515" stroke="#151515" stroke-width="0.1">4.2 ft</text>
<text x="152.04" y="349.36" font-size="9.45" text-anchor="middle" fill="#151515" stroke="#151515" stroke-width="0.1">5:28 am</text>
<circle cx="171.18" cy="192.18" r="1.7" fill="#000"/>
<text x="171.18" y="170.28" font-size="9.45" text-anchor="middle" fill="#151515" stroke="#151515" stroke-width="0.1">11:28 am</text>
<text x="171.18" y="178.58" font-size="9.45" text-anchor="middle" fill="#151515" stroke="#151515" stroke-width="0.1">8.7 ft</text>
<text x="171.18" y="188.98" font-size="9.45" text-anchor="middle" fill="#151515" stroke="#151515" stroke-width="0.1">2.64 m</text>
<circle cx="192.03" cy="337.32" r="1.7" fill="#000"/>
<text x="192.03" y="347.52" font-size="9.45" text-anchor="middle" fill="#151515" stroke="#151515" stroke-width="0.1">1.10 m</text>
<text x="192.03" y="357.93" font-size="9.45" text-anchor="middle" fill="#151515" stroke="#151515" stroke-width="0.1">3.6 ft</text>
<text x="192.03" y="367.32" font-size="9.45" text-anchor="middle" fill="#151515" stroke="#151515" stroke-width="0.1">6:00 pm</text>
<circle cx="211.45" cy="195.95" r="1.7" fill="#000"/>
<text x="211.45" y="174.05" font-size="9.45" text-anchor="middle" fill="#151515" stroke="#151515" stroke-width="0.1">12:05 am</text>
<text x="211.45" y="182.35" font-size="9.45" text-anchor="middle" fill="#151515" stroke="#151515" stroke-width="0.1">8.5 ft</text>
<text x="211.45" y="192.75" font-size="9.45" text-anchor="middle" fill="#151515" stroke="#151515" stroke-width="0.1">2.60 m</text>
<circle cx="231.23" cy="331.67" r="1.7" fill="#000"/>
<text x="231.23" y="341.87" font-size="9.45" text-anchor="middle" fill="#151515" stroke="#151515" stroke-width="0.1">1.16 m</text>
<text x="231.23" y="352.27" font-size="9.45" text-anchor="middle" fill="#151515" stroke="#151515" stroke-width="0.1">3.8 ft</text>
<text x="231.23" y="360.67" font-size="9.45" text-anchor="middle" fill="#151515" stroke="#151515" stroke-width="0.1">6:17 am</text>
<circle cx="250.49" cy="186.52" r="1.7" fill="#000"/>
<text x="250.49" y="165.12" font-size="9.45" text-anchor="middle" fill="#151515" stroke="#151515" stroke-width="0.1">12:19 pm</text>
<text x="250.49" y="172.92" font-size="9.45" text-anchor="middle" fill="#151515" stroke="#151515" stroke-width="0.1">8.9 ft</text>
<text x="250.49" y="183.32" font-size="9.45" text-anchor="middle" fill="#151515" stroke="#151515" stroke-width="0.1">2.70 m</text>
<circle cx="270.70" cy="345.81" r="1.7" fill="#000"/>
<text x="270.70" y="356.01" font-size="9.45" text-anchor="middle" fill="#151515" stroke="#151515" stroke-width="0.1">1.01 m</text>
<text x="270.70" y="366.41" font-size="9.45" text-anchor="middle" fill="#151515" stroke="#151515" stroke-width="0.1">3.3 ft</text>
<text x="270.70" y="375.81" font-size="9.45" text-anchor="middle" fill="#151515" stroke="#151515" stroke-width="0.1">6:39 pm</text>
<circle cx="290.33" cy="181.81" r="1.7" fill="#000"/>
<text x="290.33" y="159.91" font-size="9.45" text-anchor="middle" fill="#151515" stroke="#151515" stroke-width="0.1">12:48 am</text>
<text x="290.33" y="168.21" font-size="9.45" text-anchor="middle" fill="#151515" stroke="#151515" stroke-width="0.1">9.0 ft</text>
<text x="290.33" y="178.61" font-size="9.45" text-anchor="middle" fill="#151515" stroke="#151515" stroke-width="0.1">2.75 m</text>
<circle cx="310.01" cy="342.98" r="1.7" fill="#000"/>
<text x="310.01" y="353.18" font-size="9.45" text-anchor="middle" fill="#151515" stroke="#151515" stroke-width="0.1">1.04 m</text>
<text x="310.01" y="363.58" font-size="9.45" text-anchor="middle" fill="#151515" stroke="#151515" stroke-width="0.1">3.4 ft</text>
<text x="310.01" y="371.98" font-size="9.45" text-anchor="middle" fill="#151515" stroke="#151515" stroke-width="0.1">6:58 am</text>
<circle cx="329.42" cy="179.93" r="1.7" fill="#000"/>
<text x="329.42" y="158.53" font-size="9.45" text-anchor="middle" fill="#151515" stroke="#151515" stroke-width="0.1">1:03 pm</text>
<text x="329.42" y="166.33" font-size="9.45" text-anchor="middle" fill="#151515" stroke="#151515" stroke-width="0.1">9.1 ft</text>
<text x="329.42" y="176.73" font-size="9.45" text-anchor="middle" fill="#151515" stroke="#151515" stroke-width="0.1">2.77 m</text>
<circle cx="349.10" cy="353.35" r="1.7" fill="#000"/>
<text x="349.10" y="363.55" font-size="9.45" text-anchor="middle" fill="#151515" stroke="#151515" stroke-width="0.1">0.93 m</text>
<text x="349.10" y="373.95" font-size="9.45" text-anchor="middle" fill="#151515" stroke="#151515" stroke-width="0.1">3.1 ft</text>
<text x="349.10" y="383.35" font-size="9.45" text-anchor="middle" fill="#151515" stroke="#151515" stroke-width="0.1">7:13 pm</text>
<circle cx="368.94" cy="168.62" r="1.7" fill="#000"/>
<text x="368.94" y="146.72" font-size="9.45" text-anchor="middle" fill="#151515" stroke="#151515" stroke-width="0.1">1:26 am</text>
<text x="368.94" y="155.02" font-size="9.45" text-anchor="middle" fill="#151515" stroke="#151515" stroke-width="0.1">9.5 ft</text>
<text x="368.94" y="165.42" font-size="9.45" text-anchor="middle" fill="#151515" stroke="#151515" stroke-width="0.1">2.89 m</text>
<circle cx="388.57" cy="353.35" r="1.7" fill="#000"/>
<text x="388.57" y="363.55" font-size="9.45" text-anchor="middle" fill="#151515" stroke="#151515" stroke-width="0.1">0.93 m</text>
<text x="388.57" y="373.95" font-size="9.45" text-anchor="middle" fill="#151515" stroke="#151515" stroke-width="0.1">3.1 ft</text>
<text x="388.57" y="382.35" font-size="9.45" text-anchor="middle" fill="#151515" stroke="#151515" stroke-width="0.1">7:35 am</text>
<circle cx="408.09" cy="173.33" r="1.7" fill="#000"/>
<text x="408.09" y="151.93" font-size="9.45" text-anchor="middle" fill="#151515" stroke="#151515" stroke-width="0.1">1:42 pm</text>
<text x="408.09" y="159.73" font-size="9.45" text-anchor="middle" fill="#151515" stroke="#151515" stroke-width="0.1">9.3 ft</text>
<text x="408.09" y="170.13" font-size="9.45" text-anchor="middle" fill="#151515" stroke="#151515" stroke-width="0.1">2.84 m</text>
<circle cx="427.34" cy="359.94" r="1.7" fill="#000"/>
<text x="427.34" y="370.14" font-size="9.45" text-anchor="middle" fill="#151515" stroke="#151515" stroke-width="0.1">0.86 m</text>
<text x="427.34" y="380.55" font-size="9.45" text-anchor="middle" fill="#151515" stroke="#151515" stroke-width="0.1">2.8 ft</text>
<text x="427.34" y="389.94" font-size="9.45" text-anchor="middle" fill="#151515" stroke="#151515" stroke-width="0.1">7:44 pm</text>
<circle cx="447.44" cy="157.31" r="1.7" fill="#000"/>
<text x="447.44" y="135.41" font-size="9.45" text-anchor="middle" fill="#151515" stroke="#151515" stroke-width="0.1">2:02 am</text>
<text x="447.44" y="143.71" font-size="9.45" text-anchor="middle" fill="#151515" stroke="#151515" stroke-width="0.1">9.9 ft</text>
<text x="447.44" y="154.11" font-size="9.45" text-anchor="middle" fill="#151515" stroke="#151515" stroke-width="0.1">3.01 m</text>
<circle cx="466.97" cy="362.77" r="1.7" fill="#000"/>
<text x="466.97" y="372.97" font-size="9.45" text-anchor="middle" fill="#151515" stroke="#151515" stroke-width="0.1">0.83 m</text>
<text x="466.97" y="383.37" font-size="9.45" text-anchor="middle" fill="#151515" stroke="#151515" stroke-width="0.1">2.7 ft</text>
<text x="466.97" y="391.77" font-size="9.45" text-anchor="middle" fill="#151515" stroke="#151515" stroke-width="0.1">8:09 am</text>
<circle cx="486.64" cy="168.62" r="1.7" fill="#000"/>
<text x="486.64" y="147.22" font-size="9.45" text-anchor="middle" fill="#151515" stroke="#151515" stroke-width="0.1">2:19 pm</text>
<text x="486.64" y="155.02" font-size="9.45" text-anchor="middle" fill="#151515" stroke="#151515" stroke-width="0.1">9.5 ft</text>
<text x="486.64" y="165.42" font-size="9.45" text-anchor="middle" fill="#151515" stroke="#151515" stroke-width="0.1">2.89 m</text>
<circle cx="505.58" cy="365.60" r="1.7" fill="#000"/>
<text x="505.58" y="375.80" font-size="9.45" text-anchor="middle" fill="#151515" stroke="#151515" stroke-width="0.1">0.80 m</text>
<text x="505.58" y="386.20" font-size="9.45" text-anchor="middle" fill="#151515" stroke="#151515" stroke-width="0.1">2.6 ft</text>
<text x="505.58" y="395.60" font-size="9.45" text-anchor="middle" fill="#151515" stroke="#151515" stroke-width="0.1">8:15 pm</text>
<circle cx="525.84" cy="148.82" r="1.7" fill="#000"/>
<text x="525.84" y="126.92" font-size="9.45" text-anchor="middle" fill="#151515" stroke="#151515" stroke-width="0.1">2:36 am</text>
<text x="525.84" y="135.22" font-size="9.45" text-anchor="middle" fill="#151515" stroke="#151515" stroke-width="0.1">10.2 ft</text>
<text x="525.84" y="145.62" font-size="9.45" text-anchor="middle" fill="#151515" stroke="#151515" stroke-width="0.1">3.10 m</text>
<circle cx="545.31" cy="370.31" r="1.7" fill="#000"/>
<text x="545.31" y="380.51" font-size="9.45" text-anchor="middle" fill="#151515" stroke="#151515" stroke-width="0.1">0.75 m</text>
<text x="545.31" y="390.91" font-size="9.45" text-anchor="middle" fill="#151515" stroke="#151515" stroke-width="0.1">2.5 ft</text>
<text x="545.31" y="399.31" font-size="9.45" text-anchor="middle" fill="#151515" stroke="#151515" stroke-width="0.1">8:42 am</text>
<circle cx="565.15" cy="165.79" r="1.7" fill="#000"/>
<text x="565.15" y="144.39" font-size="9.45" text-anchor="middle" fill="#151515" stroke="#151515" stroke-width="0.1">2:55 pm</text>
<text x="565.15" y="152.19" font-size="9.45" text-anchor="middle" fill="#151515" stroke="#151515" stroke-width="0.1">9.6 ft</text>
<text x="565.15" y="162.59" font-size="9.45" text-anchor="middle" fill="#151515" stroke="#151515" stroke-width="0.1">2.92 m</text>
<circle cx="583.82" cy="368.43" r="1.7" fill="#000"/>
<text x="583.82" y="378.63" font-size="9.45" text-anchor="middle" fill="#151515" stroke="#151515" stroke-width="0.1">0.77 m</text>
<text x="583.82" y="389.03" font-size="9.45" text-anchor="middle" fill="#151515" stroke="#151515" stroke-width="0.1">2.5 ft</text>
<text x="583.82" y="398.43" font-size="9.45" text-anchor="middle" fill="#151515" stroke="#151515" stroke-width="0.1">8:46 pm</text>
<circle cx="604.24" cy="143.17" r="1.7" fill="#000"/>
<text x="604.24" y="121.27" font-size="9.45" text-anchor="middle" fill="#151515" stroke="#151515" stroke-width="0.1">3:10 am</text>
<text x="604.24" y="129.57" font-size="9.45" text-anchor="middle" fill="#151515" stroke="#151515" stroke-width="0.1">10.4 ft</text>
<text x="604.24" y="139.97" font-size="9.45" text-anchor="middle" fill="#151515" stroke="#151515" stroke-width="0.1">3.16 m</text>
<circle cx="623.66" cy="374.08" r="1.7" fill="#000"/>
<text x="623.66" y="384.28" font-size="9.45" text-anchor="middle" fill="#151515" stroke="#151515" stroke-width="0.1">0.71 m</text>
<text x="623.66" y="394.68" font-size="9.45" text-anchor="middle" fill="#151515" stroke="#151515" stroke-width="0.1">2.3 ft</text>
<text x="623.66" y="403.08" font-size="9.45" text-anchor="middle" fill="#151515" stroke="#151515" stroke-width="0.1">9:15 am</text>
<circle cx="643.60" cy="165.79" r="1.7" fill="#000"/>
<text x="643.60" y="144.39" font-size="9.45" text-anchor="middle" fill="#151515" stroke="#151515" stroke-width="0.1">3:30 pm</text>
<text x="643.60" y="152.19" font-size="9.45" text-anchor="middle" fill="#151515" stroke="#151515" stroke-width="0.1">9.6 ft</text>
<text x="643.60" y="162.59" font-size="9.45" text-anchor="middle" fill="#151515" stroke="#151515" stroke-width="0.1">2.92 m</text>
<circle cx="662.11" cy="370.31" r="1.7" fill="#000"/>
<text x="662.11" y="380.51" font-size="9.45" text-anchor="middle" fill="#151515" stroke="#151515" stroke-width="0.1">0.75 m</text>
<text x="662.11" y="390.91" font-size="9.45" text-anchor="middle" fill="#151515" stroke="#151515" stroke-width="0.1">2.5 ft</text>
<text x="662.11" y="400.31" font-size="9.45" text-anchor="middle" fill="#151515" stroke="#151515" stroke-width="0.1">9:18 pm</text>
<circle cx="682.70" cy="141.28" r="1.7" fill="#000"/>
<text x="682.70" y="119.38" font-size="9.45" text-anchor="middle" fill="#151515" stroke="#151515" stroke-width="0.1">3:45 am</text>
<text x="682.70" y="127.68" font-size="9.45" text-anchor="middle" fill="#151515" stroke="#151515" stroke-width="0.1">10.4 ft</text>
<text x="682.70" y="138.08" font-size="9.45" text-anchor="middle" fill="#151515" stroke="#151515" stroke-width="0.1">3.18 m</text>
<circle cx="702.06" cy="375.97" r="1.7" fill="#000"/>
<text x="702.06" y="386.17" font-size="9.45" text-anchor="middle" fill="#151515" stroke="#151515" stroke-width="0.1">0.69 m</text>
<text x="702.06" y="396.57" font-size="9.45" text-anchor="middle" fill="#151515" stroke="#151515" stroke-width="0.1">2.3 ft</text>
<text x="702.06" y="404.97" font-size="9.45" text-anchor="middle" fill="#151515" stroke="#151515" stroke-width="0.1">9:49 am</text>
<path d="M396.33 285.60 L400.53 292.50 L392.13 292.50 Z" fill="#f6f04e" stroke="#9a8a24" stroke-width="0.8"/>
<text x="46" y="479" font-size="11" text-anchor="end" fill="#222" stroke="#222" stroke-width="0.15">Sunrise</text>
<text x="746.7" y="479" font-size="11" fill="#222" stroke="#222" stroke-width="0.15">Sunrise</text>
<text x="46" y="492.9" font-size="11" text-anchor="end" fill="#222" stroke="#222" stroke-width="0.15">Sunset</text>
<text x="746.7" y="492.9" font-size="11" fill="#222" stroke="#222" stroke-width="0.15">Sunset</text>
<text x="46" y="506" font-size="11" text-anchor="end" fill="#222" stroke="#222" stroke-width="0.15">Moonrise</text>
<text x="746.7" y="506" font-size="11" fill="#222" stroke="#222" stroke-width="0.15">Moonrise</text>
<text x="46" y="519.6" font-size="11" text-anchor="end" fill="#222" stroke="#222" stroke-width="0.15">Moonset</text>
<text x="746.7" y="519.6" font-size="11" fill="#222" stroke="#222" stroke-width="0.15">Moonset</text>
<polygon points="161.29,467.90 162.76,472.48 167.57,472.46 163.67,475.27 165.17,479.84 161.29,477.00 157.41,479.84 158.91,475.27 155.01,472.46 159.82,472.48" fill="#b8b82e" stroke="#82541c" stroke-width="0.9" stroke-linejoin="miter"/><circle cx="161.29" cy="474.50" r="4.25" fill="#b8b82e" stroke="#55461a" stroke-width="0.8"/>
<text x="168.49" y="477.9" font-size="9.45" fill="#333" stroke="#333" stroke-width="0.2">8:22am</text>
<polygon points="237.88,467.90 239.35,472.48 244.16,472.46 240.26,475.27 241.76,479.84 237.88,477.00 234.00,479.84 235.51,475.27 231.61,472.46 236.41,472.48" fill="#b8b82e" stroke="#82541c" stroke-width="0.9" stroke-linejoin="miter"/><circle cx="237.88" cy="474.50" r="4.25" fill="#b8b82e" stroke="#55461a" stroke-width="0.8"/>
<text x="245.08" y="477.9" font-size="9.45" fill="#333" stroke="#333" stroke-width="0.2">8:22am</text>
<polygon points="314.53,467.90 316.00,472.48 320.80,472.46 316.90,475.27 318.41,479.84 314.53,477.00 310.65,479.84 312.15,475.27 308.25,472.46 313.06,472.48" fill="#b8b82e" stroke="#82541c" stroke-width="0.9" stroke-linejoin="miter"/><circle cx="314.53" cy="474.50" r="4.25" fill="#b8b82e" stroke="#55461a" stroke-width="0.8"/>
<text x="321.73" y="477.9" font-size="9.45" fill="#333" stroke="#333" stroke-width="0.2">8:23am</text>
<polygon points="391.17,467.90 392.64,472.48 397.45,472.46 393.55,475.27 395.05,479.84 391.17,477.00 387.29,479.84 388.79,475.27 384.89,472.46 389.70,472.48" fill="#b8b82e" stroke="#82541c" stroke-width="0.9" stroke-linejoin="miter"/><circle cx="391.17" cy="474.50" r="4.25" fill="#b8b82e" stroke="#55461a" stroke-width="0.8"/>
<text x="398.37" y="477.9" font-size="9.45" fill="#333" stroke="#333" stroke-width="0.2">8:24am</text>
<polygon points="467.82,467.90 469.29,472.48 474.09,472.46 470.19,475.27 471.70,479.84 467.82,477.00 463.94,479.84 465.44,475.27 461.54,472.46 466.35,472.48" fill="#b8b82e" stroke="#82541c" stroke-width="0.9" stroke-linejoin="miter"/><circle cx="467.82" cy="474.50" r="4.25" fill="#b8b82e" stroke="#55461a" stroke-width="0.8"/>
<text x="475.02" y="477.9" font-size="9.45" fill="#333" stroke="#333" stroke-width="0.2">8:25am</text>
<polygon points="544.46,467.90 545.93,472.48 550.74,472.46 546.84,475.27 548.34,479.84 544.46,477.00 540.58,479.84 542.08,475.27 538.18,472.46 542.99,472.48" fill="#b8b82e" stroke="#82541c" stroke-width="0.9" stroke-linejoin="miter"/><circle cx="544.46" cy="474.50" r="4.25" fill="#b8b82e" stroke="#55461a" stroke-width="0.8"/>
<text x="551.66" y="477.9" font-size="9.45" fill="#333" stroke="#333" stroke-width="0.2">8:26am</text>
<polygon points="621.10,467.90 622.57,472.48 627.38,472.46 623.48,475.27 624.98,479.84 621.10,477.00 617.23,479.84 618.73,475.27 614.83,472.46 619.64,472.48" fill="#b8b82e" stroke="#82541c" stroke-width="0.9" stroke-linejoin="miter"/><circle cx="621.10" cy="474.50" r="4.25" fill="#b8b82e" stroke="#55461a" stroke-width="0.8"/>
<text x="628.30" y="477.9" font-size="9.45" fill="#333" stroke="#333" stroke-width="0.2">8:27am</text>
<polygon points="697.70,467.90 699.17,472.48 703.97,472.46 700.07,475.27 701.58,479.84 697.70,477.00 693.82,479.84 695.32,475.27 691.42,472.46 696.23,472.48" fill="#b8b82e" stroke="#82541c" stroke-width="0.9" stroke-linejoin="miter"/><circle cx="697.70" cy="474.50" r="4.25" fill="#b8b82e" stroke="#55461a" stroke-width="0.8"/>
<text x="704.90" y="477.9" font-size="9.45" fill="#333" stroke="#333" stroke-width="0.2">8:27am</text>
<polygon points="115.92,481.70 117.39,486.28 122.20,486.26 118.30,489.07 119.80,493.64 115.92,490.80 112.04,493.64 113.54,489.07 109.65,486.26 114.45,486.28" fill="#b8692e" stroke="#82541c" stroke-width="0.9" stroke-linejoin="miter"/><circle cx="115.92" cy="488.30" r="4.25" fill="#b8692e" stroke="#55461a" stroke-width="0.8"/>
<text x="123.12" y="492.1" font-size="9.45" fill="#333" stroke="#333" stroke-width="0.2">6:09pm</text>
<polygon points="192.51,481.70 193.98,486.28 198.79,486.26 194.89,489.07 196.39,493.64 192.51,490.80 188.63,493.64 190.14,489.07 186.24,486.26 191.04,486.28" fill="#b8692e" stroke="#82541c" stroke-width="0.9" stroke-linejoin="miter"/><circle cx="192.51" cy="488.30" r="4.25" fill="#b8692e" stroke="#55461a" stroke-width="0.8"/>
<text x="199.71" y="492.1" font-size="9.45" fill="#333" stroke="#333" stroke-width="0.2">6:09pm</text>
<polygon points="269.10,481.70 270.57,486.28 275.38,486.26 271.48,489.07 272.98,493.64 269.10,490.80 265.23,493.64 266.73,489.07 262.83,486.26 267.64,486.28" fill="#b8692e" stroke="#82541c" stroke-width="0.9" stroke-linejoin="miter"/><circle cx="269.10" cy="488.30" r="4.25" fill="#b8692e" stroke="#55461a" stroke-width="0.8"/>
<text x="276.30" y="492.1" font-size="9.45" fill="#333" stroke="#333" stroke-width="0.2">6:09pm</text>
<polygon points="345.70,481.70 347.17,486.28 351.97,486.26 348.07,489.07 349.58,493.64 345.70,490.80 341.82,493.64 343.32,489.07 339.42,486.26 344.23,486.28" fill="#b8692e" stroke="#82541c" stroke-width="0.9" stroke-linejoin="miter"/><circle cx="345.70" cy="488.30" r="4.25" fill="#b8692e" stroke="#55461a" stroke-width="0.8"/>
<text x="352.90" y="492.1" font-size="9.45" fill="#333" stroke="#333" stroke-width="0.2">6:09pm</text>
<polygon points="422.29,481.70 423.76,486.28 428.56,486.26 424.66,489.07 426.17,493.64 422.29,490.80 418.41,493.64 419.91,489.07 416.01,486.26 420.82,486.28" fill="#b8692e" stroke="#82541c" stroke-width="0.9" stroke-linejoin="miter"/><circle cx="422.29" cy="488.30" r="4.25" fill="#b8692e" stroke="#55461a" stroke-width="0.8"/>
<text x="429.49" y="492.1" font-size="9.45" fill="#333" stroke="#333" stroke-width="0.2">6:09pm</text>
<polygon points="498.88,481.70 500.35,486.28 505.16,486.26 501.26,489.07 502.76,493.64 498.88,490.80 495.00,493.64 496.50,489.07 492.60,486.26 497.41,486.28" fill="#b8692e" stroke="#82541c" stroke-width="0.9" stroke-linejoin="miter"/><circle cx="498.88" cy="488.30" r="4.25" fill="#b8692e" stroke="#55461a" stroke-width="0.8"/>
<text x="506.08" y="492.1" font-size="9.45" fill="#333" stroke="#333" stroke-width="0.2">6:09pm</text>
<polygon points="575.47,481.70 576.94,486.28 581.75,486.26 577.85,489.07 579.35,493.64 575.47,490.80 571.59,493.64 573.09,489.07 569.19,486.26 574.00,486.28" fill="#b8692e" stroke="#82541c" stroke-width="0.9" stroke-linejoin="miter"/><circle cx="575.47" cy="488.30" r="4.25" fill="#b8692e" stroke="#55461a" stroke-width="0.8"/>
<text x="582.67" y="492.1" font-size="9.45" fill="#333" stroke="#333" stroke-width="0.2">6:09pm</text>
<polygon points="652.06,481.70 653.53,486.28 658.34,486.26 654.44,489.07 655.94,493.64 652.06,490.80 648.18,493.64 649.68,489.07 645.78,486.26 650.59,486.28" fill="#b8692e" stroke="#82541c" stroke-width="0.9" stroke-linejoin="miter"/><circle cx="652.06" cy="488.30" r="4.25" fill="#b8692e" stroke="#55461a" stroke-width="0.8"/>
<text x="659.26" y="492.1" font-size="9.45" fill="#333" stroke="#333" stroke-width="0.2">6:09pm</text>
<circle cx="145.71" cy="501.8" r="4.9" fill="#ffffc8" stroke="#8e8a78" stroke-width="1"/>
<text x="152.91" y="505.3" font-size="9.45" fill="#333" stroke="#333" stroke-width="0.2">3:29am</text>
<circle cx="225.38" cy="501.8" r="4.9" fill="#ffffc8" stroke="#8e8a78" stroke-width="1"/>
<text x="232.58" y="505.3" font-size="9.45" fill="#333" stroke="#333" stroke-width="0.2">4:27am</text>
<circle cx="305.11" cy="501.8" r="4.9" fill="#ffffc8" stroke="#8e8a78" stroke-width="1"/>
<text x="312.31" y="505.3" font-size="9.45" fill="#333" stroke="#333" stroke-width="0.2">5:26am</text>
<circle cx="384.84" cy="501.8" r="4.9" fill="#ffffc8" stroke="#8e8a78" stroke-width="1"/>
<text x="392.04" y="505.3" font-size="9.45" fill="#333" stroke="#333" stroke-width="0.2">6:25am</text>
<circle cx="464.62" cy="501.8" r="4.9" fill="#ffffc8" stroke="#8e8a78" stroke-width="1"/>
<text x="471.82" y="505.3" font-size="9.45" fill="#333" stroke="#333" stroke-width="0.2">7:25am</text>
<circle cx="544.35" cy="501.8" r="4.9" fill="#ffffc8" stroke="#8e8a78" stroke-width="1"/>
<text x="551.55" y="505.3" font-size="9.45" fill="#333" stroke="#333" stroke-width="0.2">8:24am</text>
<circle cx="623.92" cy="501.8" r="4.9" fill="#ffffc8" stroke="#8e8a78" stroke-width="1"/>
<text x="631.12" y="505.3" font-size="9.45" fill="#333" stroke="#333" stroke-width="0.2">9:20am</text>
<circle cx="104.54" cy="515.7" r="4.9" fill="#c6c2b6" stroke="#7e7a72" stroke-width="1"/>
<text x="111.74" y="519.6" font-size="9.45" fill="#333" stroke="#333" stroke-width="0.2">2:35pm</text>
<circle cx="182.30" cy="515.7" r="4.9" fill="#c6c2b6" stroke="#7e7a72" stroke-width="1"/>
<text x="189.50" y="519.6" font-size="9.45" fill="#333" stroke="#333" stroke-width="0.2">2:57pm</text>
<circle cx="260.17" cy="515.7" r="4.9" fill="#c6c2b6" stroke="#7e7a72" stroke-width="1"/>
<text x="267.37" y="519.6" font-size="9.45" fill="#333" stroke="#333" stroke-width="0.2">3:21pm</text>
<circle cx="338.25" cy="515.7" r="4.9" fill="#c6c2b6" stroke="#7e7a72" stroke-width="1"/>
<text x="345.45" y="519.6" font-size="9.45" fill="#333" stroke="#333" stroke-width="0.2">3:49pm</text>
<circle cx="416.49" cy="515.7" r="4.9" fill="#c6c2b6" stroke="#7e7a72" stroke-width="1"/>
<text x="423.69" y="519.6" font-size="9.45" fill="#333" stroke="#333" stroke-width="0.2">4:20pm</text>
<circle cx="495.05" cy="515.7" r="4.9" fill="#c6c2b6" stroke="#7e7a72" stroke-width="1"/>
<text x="502.25" y="519.6" font-size="9.45" fill="#333" stroke="#333" stroke-width="0.2">4:57pm</text>
<circle cx="573.98" cy="515.7" r="4.9" fill="#c6c2b6" stroke="#7e7a72" stroke-width="1"/>
<text x="581.18" y="519.6" font-size="9.45" fill="#333" stroke="#333" stroke-width="0.2">5:41pm</text>
<circle cx="653.34" cy="515.7" r="4.9" fill="#c6c2b6" stroke="#7e7a72" stroke-width="1"/>
<text x="660.54" y="519.6" font-size="9.45" fill="#333" stroke="#333" stroke-width="0.2">6:33pm</text>
<text x="574.17" y="531.8" font-size="9.75" text-anchor="end" fill="#333" stroke="#333" stroke-width="0.15">New Moon</text>
<text x="576.17" y="533" font-size="9.45" fill="#333" stroke="#333" stroke-width="0.2">| 6:41pm</text>
</svg></body></html>
